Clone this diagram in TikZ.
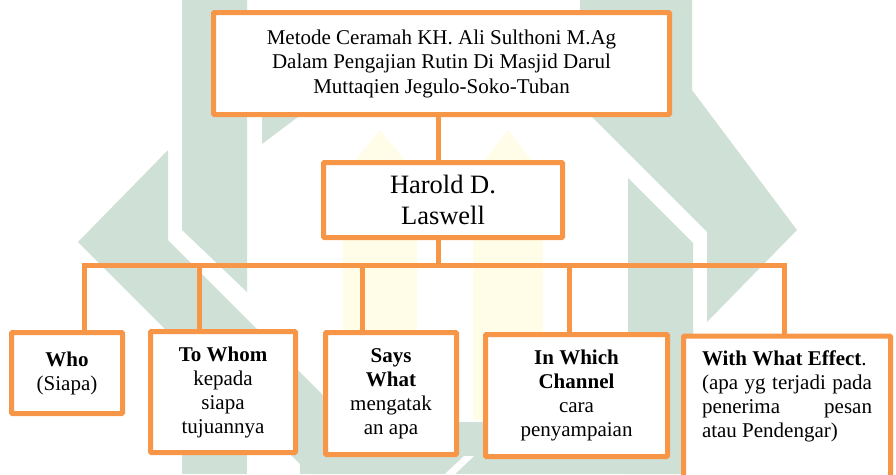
\documentclass[tikz,border=0pt]{standalone}
\usepackage{fontspec}
\setmainfont{Liberation Serif}
\usepackage{tikz}

\definecolor{boxorange}{RGB}{247,150,70}
\definecolor{wmgreen}{RGB}{207,224,215}
\definecolor{wmyellow}{RGB}{255,252,232}

\begin{document}
\begin{tikzpicture}[x=1pt, y=-1pt,
    box/.style={draw=boxorange, line width=5pt, fill=white, align=center, inner sep=0pt, rounded corners=1pt},
    link/.style={draw=boxorange, line width=5pt},
    small/.style={font=\fontsize{21}{24}\selectfont}]

    \useasboundingbox (0,0) rectangle (896,474);

    % Watermark in the background
    \fill[wmyellow] (343,175) -- (380,130) -- (417,175) -- (417,420) -- (343,420) -- cycle;
    \fill[wmyellow] (473,175) -- (508,130) -- (543,175) -- (543,420) -- (473,420) -- cycle;
    \fill[wmgreen] (182,0) -- (247,0) -- (247,292) -- (182,230) -- cycle;
    \fill[wmgreen] (168,150) -- (78,242) -- (310,474) -- (402,474) -- (168,240) -- cycle;
    \fill[wmgreen] (182,400) rectangle (247,474);
    \fill[wmgreen] (262,117) -- (262,144) -- (298,117) -- cycle;
    \fill[wmgreen] (580,0) -- (692,0) -- (692,90) -- (797,230) -- (707,322) -- (707,232) -- (580,105) -- cycle;
    \fill[wmgreen] (628,178) -- (693,243) -- (693,474) -- (628,474) -- cycle;
    \fill[wmgreen] (300,422) rectangle (682,474);
    \fill[white] (464,456) -- (474,456) -- (455,474) -- (445,474) -- cycle;

    % Coordinates on the bus line
    \coordinate (mid) at (438,265);
    \coordinate (d1) at (84,265);
    \coordinate (d2) at (199,265);
    \coordinate (d3) at (362,265);
    \coordinate (d4) at (569,265);
    \coordinate (d5) at (784,265);

    % Boxes
    \node[box, minimum width=456pt, minimum height=102pt, font=\fontsize{21}{24.5}\selectfont] (top) at (441.5,63.5)
        {Metode Ceramah KH. Ali Sulthoni M.Ag\\Dalam Pengajian Rutin Di Masjid Darul\\Muttaqien Jegulo-Soko-Tuban};
    \node[box, minimum width=239pt, minimum height=75pt, font=\fontsize{26.5}{31}\selectfont] (harold) at (443,200)
        {Harold D.\\Laswell};

    \node[box, small, minimum width=111pt, minimum height=81pt] (who) at (67,373)
        {\textbf{Who}\\(Siapa)};
    \node[box, small, minimum width=145pt, minimum height=121pt] (whom) at (223,392)
        {\textbf{To Whom}\\kepada\\siapa\\tujuannya};
    \node[box, small, minimum width=131pt, minimum height=122pt] (says) at (391,393.5)
        {\textbf{Says}\\\textbf{What}\\mengatak\\an apa};
    \node[box, small, minimum width=182pt, minimum height=122pt] (channel) at (576.5,395.5)
        {\textbf{In Which}\\\textbf{Channel}\\cara\\penyampaian};
    \node[box, small, anchor=north, inner xsep=18.5pt, inner ysep=14.5pt] (effect) at (787,333.5)
        {\begin{minipage}[c][130pt][t]{170pt}
        \textbf{With What Effect}.\\
        (apa yg terjadi pada penerima pesan\linebreak atau Pendengar)
        \end{minipage}};

    % Connectors
    \draw[link] (top.south -| mid) -- (harold.north -| mid);
    \draw[link] (harold.south -| mid) -- (mid);
    \draw[link] (who.north -| d1) -- (d1) -- (d5) -- (effect.north -| d5);
    \foreach \i/\n in {2/whom, 3/says, 4/channel}
        \draw[link] (d\i) -- (\n.north -| d\i);

\end{tikzpicture}
\end{document}
